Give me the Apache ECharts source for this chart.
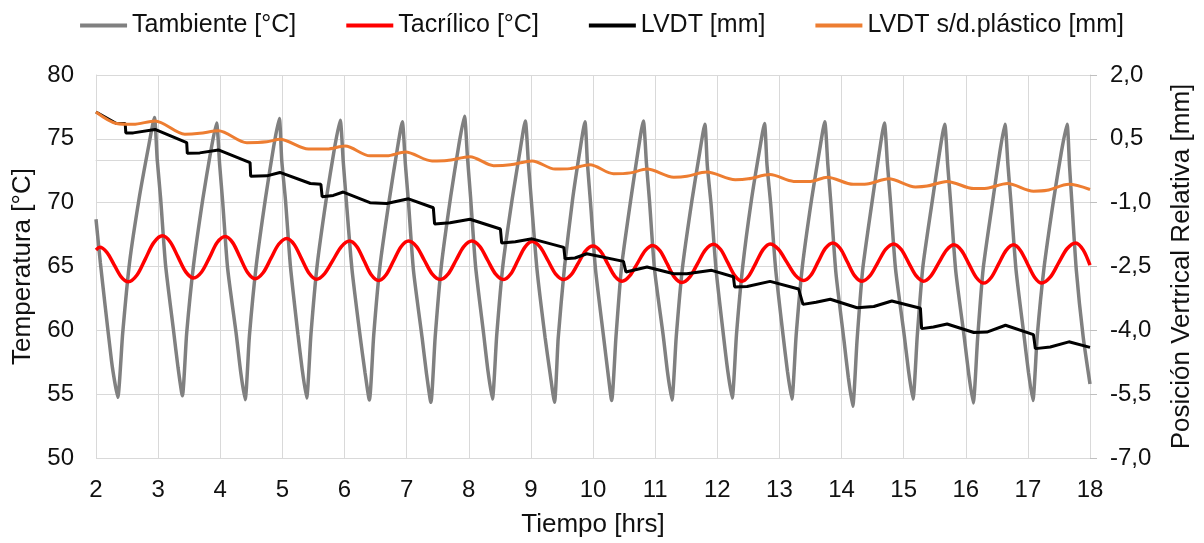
<!DOCTYPE html>
<html>
<head>
<meta charset="utf-8">
<script src="https://cdn.jsdelivr.net/npm/echarts@6/dist/echarts.min.js"></script>
<style>
html,body{margin:0;padding:0;background:#fff;}
#chart{width:1204px;height:543px;}
</style>
</head>
<body>
<div id="chart"></div>
<script>
// ---- Data ----
const seriesNames = ['Tambiente [°C]', 'Tacrílico [°C]', 'LVDT [mm]', 'LVDT s/d.plástico [mm]'];
const xTicks = [2, 18, 1];          // min, max, step (hours)
const leftTicks = [50, 80, 5];      // °C
const rightTicks = [-7, 2, 1.5];    // mm

// Tambiente [°C] : [hours, °C]
const tAmbiente = [
  [2.00,68.7],[2.07,65.3],[2.15,61.8],[2.25,57.6],[2.30,56.0],[2.35,54.75],
  [2.43,59.8],[2.54,65.3],[2.70,70.5],[2.85,74.5],[2.94,76.67],
  [2.985,73.4],[3.04,70.35],[3.12,65.1],[3.25,59.9],[3.32,57.1],[3.39,54.88],
  [3.46,59.8],[3.57,65.1],[3.72,70.3],[3.85,74.1],[3.94,76.25],
  [3.99,73.0],[4.04,70.0],[4.12,64.8],[4.26,59.6],[4.33,56.7],[4.40,54.57],
  [4.47,59.6],[4.58,65.1],[4.73,70.4],[4.86,74.4],[4.95,76.59],
  [4.99,73.3],[5.05,70.2],[5.13,65.0],[5.25,59.7],[5.32,56.9],[5.39,54.70],
  [5.46,59.7],[5.56,65.1],[5.71,70.4],[5.84,74.3],[5.93,76.46],
  [5.98,73.2],[6.03,70.1],[6.12,64.8],[6.25,59.6],[6.33,56.7],[6.40,54.54],
  [6.47,59.6],[6.57,65.0],[6.72,70.2],[6.85,74.2],[6.93,76.33],
  [6.98,73.0],[7.03,70.0],[7.11,64.7],[7.25,59.4],[7.32,56.6],[7.39,54.36],
  [7.46,59.5],[7.56,65.1],[7.71,70.5],[7.84,74.5],[7.93,76.77],
  [7.98,73.5],[8.03,70.4],[8.11,65.0],[8.24,59.7],[8.31,56.8],[8.38,54.62],
  [8.45,59.6],[8.55,65.1],[8.70,70.3],[8.83,74.2],[8.91,76.40],
  [8.96,73.1],[9.01,70.0],[9.10,64.7],[9.23,59.4],[9.31,56.6],[9.38,54.36],
  [9.44,59.4],[9.54,64.9],[9.67,70.2],[9.79,74.1],[9.87,76.33],
  [9.91,73.1],[9.96,70.0],[10.04,64.8],[10.17,59.5],[10.24,56.7],[10.30,54.5],
  [10.37,59.5],[10.46,65.0],[10.61,70.3],[10.73,74.2],[10.81,76.40],
  [10.86,73.1],[10.91,70.1],[10.99,64.8],[11.13,59.6],[11.20,56.7],[11.27,54.54],
  [11.34,59.5],[11.44,64.9],[11.59,70.1],[11.72,74.0],[11.80,76.15],
  [11.84,72.9],[11.90,69.9],[11.98,64.8],[12.10,59.6],[12.17,56.8],[12.24,54.70],
  [12.31,59.7],[12.41,65.0],[12.55,70.2],[12.68,74.1],[12.76,76.2],
  [12.80,73.0],[12.86,69.9],[12.94,64.8],[13.06,59.6],[13.13,56.8],[13.20,54.62],
  [13.27,59.6],[13.37,65.0],[13.52,70.3],[13.65,74.2],[13.73,76.33],
  [13.78,73.0],[13.83,69.9],[13.91,64.5],[14.04,59.2],[14.11,56.3],[14.18,54.05],
  [14.25,59.2],[14.34,64.7],[14.49,70.0],[14.61,74.0],[14.69,76.25],
  [14.74,73.0],[14.79,70.0],[14.87,64.8],[15.01,59.6],[15.08,56.8],[15.15,54.62],
  [15.22,59.6],[15.31,65.0],[15.46,70.1],[15.58,74.0],[15.66,76.15],
  [15.71,72.9],[15.76,69.8],[15.84,64.6],[15.98,59.3],[16.05,56.5],[16.12,54.31],
  [16.19,59.3],[16.28,64.8],[16.43,70.0],[16.55,74.0],[16.63,76.15],
  [16.68,72.9],[16.73,69.9],[16.81,64.7],[16.94,59.5],[17.01,56.7],[17.08,54.5],
  [17.15,59.5],[17.26,64.9],[17.41,70.1],[17.54,74.0],[17.63,76.15],
  [17.67,72.9],[17.71,69.9],[17.78,64.7],[17.89,59.5],[18.00,55.8]
];

// Tacrílico [°C] : [hours, °C]
const tAcrilico = [
  [2.00,66.3],[2.06,66.5],[2.175,66.11],[2.29,65.15],[2.405,64.19],[2.52,63.8],
  [2.66,64.33],[2.795,65.6],[2.93,66.87],[3.07,67.4],
  [3.195,66.92],[3.32,65.75],[3.445,64.58],[3.57,64.1],
  [3.70,64.57],[3.83,65.73],[3.95,66.88],[4.08,67.35],
  [4.20,66.87],[4.32,65.7],[4.44,64.53],[4.56,64.05],
  [4.69,64.51],[4.815,65.63],[4.94,66.74],[5.07,67.2],
  [5.19,66.73],[5.31,65.6],[5.43,64.47],[5.55,64.0],
  [5.68,64.44],[5.815,65.5],[5.95,66.56],[6.08,67.0],
  [6.20,66.55],[6.315,65.45],[6.43,64.35],[6.55,63.9],
  [6.67,64.35],[6.79,65.45],[6.91,66.55],[7.03,67.0],
  [7.16,66.56],[7.285,65.49],[7.41,64.42],[7.54,63.98],
  [7.67,64.42],[7.795,65.49],[7.92,66.56],[8.05,67.0],
  [8.18,66.56],[8.305,65.49],[8.43,64.42],[8.56,63.98],
  [8.675,64.41],[8.79,65.47],[8.905,66.52],[9.02,66.95],
  [9.15,66.52],[9.275,65.47],[9.40,64.41],[9.53,63.98],
  [9.65,64.36],[9.765,65.29],[9.88,66.22],[10.00,66.6],
  [10.12,66.2],[10.235,65.23],[10.35,64.25],[10.47,63.85],
  [10.59,64.26],[10.715,65.25],[10.84,66.24],[10.96,66.65],
  [11.08,66.23],[11.195,65.2],[11.31,64.17],[11.43,63.75],
  [11.56,64.19],[11.685,65.25],[11.81,66.31],[11.94,66.75],
  [12.055,66.33],[12.17,65.3],[12.285,64.27],[12.40,63.85],
  [12.51,64.28],[12.625,65.31],[12.74,66.34],[12.85,66.77],
  [12.985,66.35],[13.12,65.34],[13.255,64.32],[13.39,63.9],
  [13.51,64.33],[13.625,65.38],[13.74,66.42],[13.86,66.85],
  [13.98,66.41],[14.095,65.35],[14.21,64.29],[14.33,63.85],
  [14.46,64.28],[14.585,65.31],[14.71,66.34],[14.84,66.77],
  [14.96,66.34],[15.08,65.31],[15.20,64.28],[15.32,63.85],
  [15.44,64.27],[15.565,65.28],[15.69,66.28],[15.81,66.7],
  [15.93,66.26],[16.05,65.2],[16.17,64.14],[16.29,63.7],
  [16.41,64.14],[16.53,65.2],[16.65,66.26],[16.77,66.7],
  [16.88,66.26],[16.995,65.2],[17.11,64.14],[17.22,63.7],
  [17.36,64.16],[17.495,65.28],[17.63,66.39],[17.77,66.85],
  [17.89,66.3],[18.00,65.1]
];

// LVDT [mm] : [hours, mm]
const lvdt = [
  [2.00,1.13],[2.33,0.86],[2.47,0.86],[2.48,0.64],[2.60,0.64],[2.95,0.72],
  [3.46,0.41],[3.47,0.16],[3.67,0.17],[3.97,0.24],[4.48,-0.06],[4.49,-0.38],
  [4.75,-0.37],[4.96,-0.29],[5.45,-0.55],[5.62,-0.57],[5.64,-0.86],[5.82,-0.83],
  [5.98,-0.75],[6.41,-1.00],[6.68,-1.02],[7.03,-0.91],[7.43,-1.12],[7.45,-1.50],
  [7.70,-1.47],[8.02,-1.39],[8.51,-1.62],[8.53,-1.95],[8.75,-1.92],[9.02,-1.85],
  [9.53,-2.05],[9.55,-2.32],[9.71,-2.30],[9.90,-2.20],[10.49,-2.38],[10.53,-2.63],
  [10.87,-2.51],[11.30,-2.67],[11.51,-2.67],[11.91,-2.59],[12.26,-2.74],[12.28,-2.98],
  [12.48,-2.97],[12.85,-2.85],[13.31,-3.03],[13.38,-3.39],[13.59,-3.34],[13.82,-3.27],
  [14.25,-3.47],[14.52,-3.44],[14.81,-3.31],[15.27,-3.48],[15.29,-3.96],[15.48,-3.92],
  [15.70,-3.85],[16.13,-4.05],[16.34,-4.04],[16.64,-3.88],[17.09,-4.10],[17.12,-4.43],
  [17.36,-4.39],[17.66,-4.27],[18.00,-4.40]
];

// LVDT s/d.plástico [mm] : [hours, mm]
const lvdtSinPlastico = [
  [2.00,1.13],[2.33,0.86],[2.60,0.84],[2.95,0.92],[3.43,0.61],[3.67,0.63],[3.97,0.69],
  [4.43,0.41],[4.75,0.43],[4.96,0.49],[5.42,0.26],[5.72,0.26],[6.01,0.33],
  [6.41,0.10],[6.68,0.10],[6.98,0.19],[7.41,-0.02],[7.65,-0.01],[8.02,0.08],
  [8.40,-0.13],[8.67,-0.11],[9.02,-0.02],[9.39,-0.21],[9.63,-0.20],[9.95,-0.11],
  [10.33,-0.32],[10.60,-0.30],[10.87,-0.21],[11.30,-0.40],[11.51,-0.38],[11.83,-0.28],
  [12.29,-0.46],[12.50,-0.44],[12.85,-0.34],[13.23,-0.50],[13.50,-0.50],[13.77,-0.40],
  [14.19,-0.57],[14.41,-0.56],[14.76,-0.44],[15.19,-0.63],[15.38,-0.61],[15.70,-0.50],
  [16.13,-0.67],[16.34,-0.66],[16.67,-0.55],[17.09,-0.73],[17.31,-0.71],[17.66,-0.57],
  [18.00,-0.69]
];

// ---- Chart ----
const FONT = "'Liberation Sans', Arial, sans-serif";
const TXT = '#111111';
const GRID = '#d9d9d9';
const chart = echarts.init(document.getElementById('chart'), null, {renderer: 'canvas'});

chart.setOption({
  animation: false,
  backgroundColor: '#ffffff',
  textStyle: {fontFamily: FONT},
  legend: {
    top: 8, left: 'center',
    icon: 'rect', itemWidth: 47, itemHeight: 4, itemGap: 50,
    textStyle: {fontSize: 25, color: TXT, fontFamily: FONT},
    data: seriesNames
  },
  grid: {left: 96, right: 114, top: 75, bottom: 83, containLabel: false},
  xAxis: {
    type: 'value', min: xTicks[0], max: xTicks[1], interval: xTicks[2],
    name: 'Tiempo [hrs]', nameLocation: 'middle', nameGap: 54,
    nameTextStyle: {fontSize: 26, color: TXT, fontFamily: FONT},
    axisLine: {show: true, lineStyle: {color: GRID, width: 1}},
    axisTick: {show: false},
    axisLabel: {fontSize: 24, color: TXT, margin: 20, fontFamily: FONT},
    splitLine: {show: true, lineStyle: {color: GRID, width: 1}}
  },
  yAxis: [
    {
      type: 'value', position: 'left',
      min: leftTicks[0], max: leftTicks[1], interval: leftTicks[2],
      name: 'Temperatura [°C]', nameLocation: 'middle', nameGap: 60, nameRotate: 90,
      nameTextStyle: {fontSize: 26, color: TXT, fontFamily: FONT},
      axisLine: {show: true, lineStyle: {color: GRID, width: 1}},
      axisTick: {show: false},
      axisLabel: {fontSize: 24, color: TXT, margin: 22, fontFamily: FONT},
      splitLine: {show: true, lineStyle: {color: GRID, width: 1}}
    },
    {
      type: 'value', position: 'right',
      min: rightTicks[0], max: rightTicks[1], interval: rightTicks[2],
      name: 'Posición Vertrical Relativa [mm]', nameLocation: 'middle', nameGap: 79, nameRotate: 90,
      nameTextStyle: {fontSize: 26, color: TXT, fontFamily: FONT},
      axisLine: {show: true, lineStyle: {color: GRID, width: 1}},
      axisTick: {show: true, inside: false, length: 7, lineStyle: {color: '#bfbfbf'}},
      axisLabel: {
        fontSize: 24, color: TXT, margin: 20, fontFamily: FONT,
        formatter: v => v.toFixed(1).replace('.', ',')
      },
      splitLine: {show: false}
    }
  ],
  series: [
    {name: seriesNames[0], type: 'line', yAxisIndex: 0, data: tAmbiente, showSymbol: false, symbol: 'none',
     smooth: 0.2, lineStyle: {color: '#808080', width: 3.5}, itemStyle: {color: '#808080'}},
    {name: seriesNames[1], type: 'line', yAxisIndex: 0, data: tAcrilico, showSymbol: false, symbol: 'none',
     smooth: 0.3, lineStyle: {color: '#ff0000', width: 3.5}, itemStyle: {color: '#ff0000'}},
    {name: seriesNames[2], type: 'line', yAxisIndex: 1, data: lvdt, showSymbol: false, symbol: 'none',
     smooth: false, lineStyle: {color: '#000000', width: 3}, itemStyle: {color: '#000000'}},
    {name: seriesNames[3], type: 'line', yAxisIndex: 1, data: lvdtSinPlastico, showSymbol: false, symbol: 'none',
     smooth: 0.3, lineStyle: {color: '#ed7d31', width: 3}, itemStyle: {color: '#ed7d31'}}
  ]
});
</script>
</body>
</html>
